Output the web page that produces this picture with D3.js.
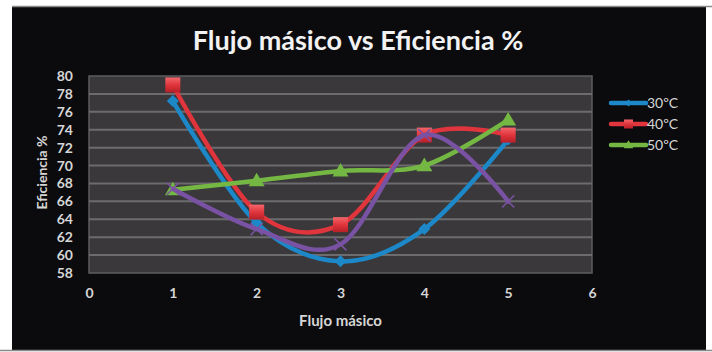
<!DOCTYPE html>
<html>
<head>
<meta charset="utf-8">
<script src="https://cdn.jsdelivr.net/npm/d3@7"></script>
<style>
  html, body { margin: 0; padding: 0; background: #ffffff; }
  svg { display: block; font-family: Lato, "Open Sans", sans-serif; }
</style>
</head>
<body>
<svg id="chart" width="712" height="352"></svg>
<script>
// Mass flow vs efficiency measurements
const flujo = [1, 2, 3, 4, 5];
const ef30 = [77.2, 63.6, 59.3, 62.9, 72.9];
const ef40 = [79.0, 64.8, 63.4, 73.4, 73.4];
const ef50 = [67.3, 68.3, 69.4, 70.0, 75.1];
const ef4 = [67.4, 62.9, 61.2, 73.4, 66.0];
const seriesNames = ["30ºC", "40ºC", "50ºC", "Serie4"];
const xTicks = [0, 1, 2, 3, 4, 5, 6];
const yTicks = [58, 60, 62, 64, 66, 68, 70, 72, 74, 76, 78, 80];

const series = [
  { name: seriesNames[0], values: ef30, color: "#1d88c8", marker: "diamond", legend: true },
  { name: seriesNames[1], values: ef40, color: "#e0353c", marker: "square", legend: true },
  { name: seriesNames[2], values: ef50, color: "#74b843", marker: "triangle", legend: true },
  { name: seriesNames[3], values: ef4, color: "#7a52a3", marker: "x", legend: false }
];

const svg = d3.select("#chart");
const labelColor = "#d6d6d6";

// chart frame
svg.append("rect").attr("x", 12).attr("y", 6).attr("width", 694).attr("height", 344)
  .attr("fill", "#0b0a0d");
svg.append("line").attr("x1", 12).attr("x2", 712).attr("y1", 6.5).attr("y2", 6.5)
  .attr("stroke", "#8a8a8a").attr("stroke-width", 1.5);
svg.append("line").attr("x1", 0).attr("x2", 712).attr("y1", 350.5).attr("y2", 350.5)
  .attr("stroke", "#8a8a8a").attr("stroke-width", 1.5);

const plot = { left: 89, right: 592, top: 76, bottom: 273 };
const x = d3.scaleLinear().domain([0, 6]).range([plot.left, plot.right]);
const y = d3.scaleLinear().domain([58, 80]).range([plot.bottom, plot.top]);

const defs = svg.append("defs");
const grad = defs.append("linearGradient").attr("id", "sqGrad")
  .attr("x1", 0).attr("y1", 0).attr("x2", 0).attr("y2", 1);
grad.append("stop").attr("offset", "0%").attr("stop-color", "#f2666b");
grad.append("stop").attr("offset", "50%").attr("stop-color", "#e0353c");
grad.append("stop").attr("offset", "100%").attr("stop-color", "#b81f27");

// plot area
svg.append("rect")
  .attr("x", plot.left).attr("y", plot.top)
  .attr("width", plot.right - plot.left).attr("height", plot.bottom - plot.top)
  .attr("fill", "#3a383b").attr("stroke", "#5e5d60").attr("stroke-width", 1.5);

// horizontal gridlines
svg.append("g").selectAll("line").data(yTicks.slice(1, -1)).join("line")
  .attr("x1", plot.left).attr("x2", plot.right)
  .attr("y1", d => y(d)).attr("y2", d => y(d))
  .attr("stroke", "#6c6b6e").attr("stroke-width", 2);

// y axis labels
const yAxis = d3.axisLeft(y).tickValues(yTicks).tickSize(0).tickPadding(0);
const gy = svg.append("g").attr("transform", `translate(${plot.left - 16},0)`).call(yAxis);
gy.select(".domain").remove();
gy.selectAll("text").attr("fill", labelColor).attr("font-size", 14).attr("font-weight", "bold")
  .attr("font-family", "Lato, sans-serif");

// x axis labels
const xAxis = d3.axisBottom(x).tickValues(xTicks).tickFormat(d3.format("d")).tickSize(0).tickPadding(0);
const gx = svg.append("g").attr("transform", `translate(0,${plot.bottom + 15})`).call(xAxis);
gx.select(".domain").remove();
gx.selectAll("text").attr("fill", labelColor).attr("font-size", 14).attr("font-weight", "bold")
  .attr("font-family", "Lato, sans-serif");

// titles
svg.append("text").attr("x", 358).attr("y", 50).attr("text-anchor", "middle")
  .attr("fill", "#f2f2f2").attr("font-size", 27).attr("font-weight", "bold")
  .text("Flujo másico vs Eficiencia %");
svg.append("text").attr("x", (plot.left + plot.right) / 2).attr("y", 326).attr("text-anchor", "middle")
  .attr("fill", labelColor).attr("font-size", 15).attr("font-weight", "bold")
  .text("Flujo másico");
svg.append("text").attr("transform", `translate(47,${(plot.top + plot.bottom) / 2 - 2}) rotate(-90)`)
  .attr("text-anchor", "middle")
  .attr("fill", labelColor).attr("font-size", 14).attr("font-weight", "bold")
  .text("Eficiencia %");

const line = d3.line()
  .x((d, i) => x(flujo[i]))
  .y(d => y(d))
  .curve(d3.curveCardinal.tension(0));

function drawMarker(g, type, color, cx, cy, scale) {
  const k = scale || 1;
  if (type === "diamond") {
    const r = 6 * k;
    g.append("path").attr("d", `M${cx},${cy - r}L${cx + r},${cy}L${cx},${cy + r}L${cx - r},${cy}Z`)
      .attr("fill", color);
  } else if (type === "square") {
    const s = 15 * k;
    g.append("rect").attr("x", cx - s / 2).attr("y", cy - s / 2).attr("width", s).attr("height", s)
      .attr("fill", "url(#sqGrad)");
  } else if (type === "triangle") {
    const r = 8 * k;
    g.append("path").attr("d", `M${cx},${cy - r}L${cx + r},${cy + r * 0.7}L${cx - r},${cy + r * 0.7}Z`)
      .attr("fill", color);
  } else if (type === "x") {
    const r = 6 * k;
    g.append("path").attr("d", `M${cx - r},${cy - r}L${cx + r},${cy + r}M${cx - r},${cy + r}L${cx + r},${cy - r}`)
      .attr("stroke", color).attr("stroke-width", 1.5);
  }
}

series.forEach(s => {
  const g = svg.append("g");
  g.append("path").datum(s.values).attr("d", line)
    .attr("fill", "none").attr("stroke", s.color).attr("stroke-width", 4.5)
    .attr("stroke-linecap", "round").attr("stroke-linejoin", "round");
  s.values.forEach((v, i) => drawMarker(g, s.marker, s.color, x(flujo[i]), y(v)));
});

// legend
const legendSeries = series.filter(s => s.legend);
const lg = svg.append("g");
legendSeries.forEach((s, i) => {
  const ly = 103 + i * 21;
  lg.append("line").attr("x1", 611).attr("x2", 646).attr("y1", ly).attr("y2", ly)
    .attr("stroke", s.color).attr("stroke-width", 4.5).attr("stroke-linecap", "round");
  drawMarker(lg, s.marker, s.color, 628.5, ly, 0.6);
  lg.append("text").attr("x", 647).attr("y", ly + 5)
    .attr("fill", labelColor).attr("font-size", 14).text(s.name);
});
</script>
</body>
</html>
